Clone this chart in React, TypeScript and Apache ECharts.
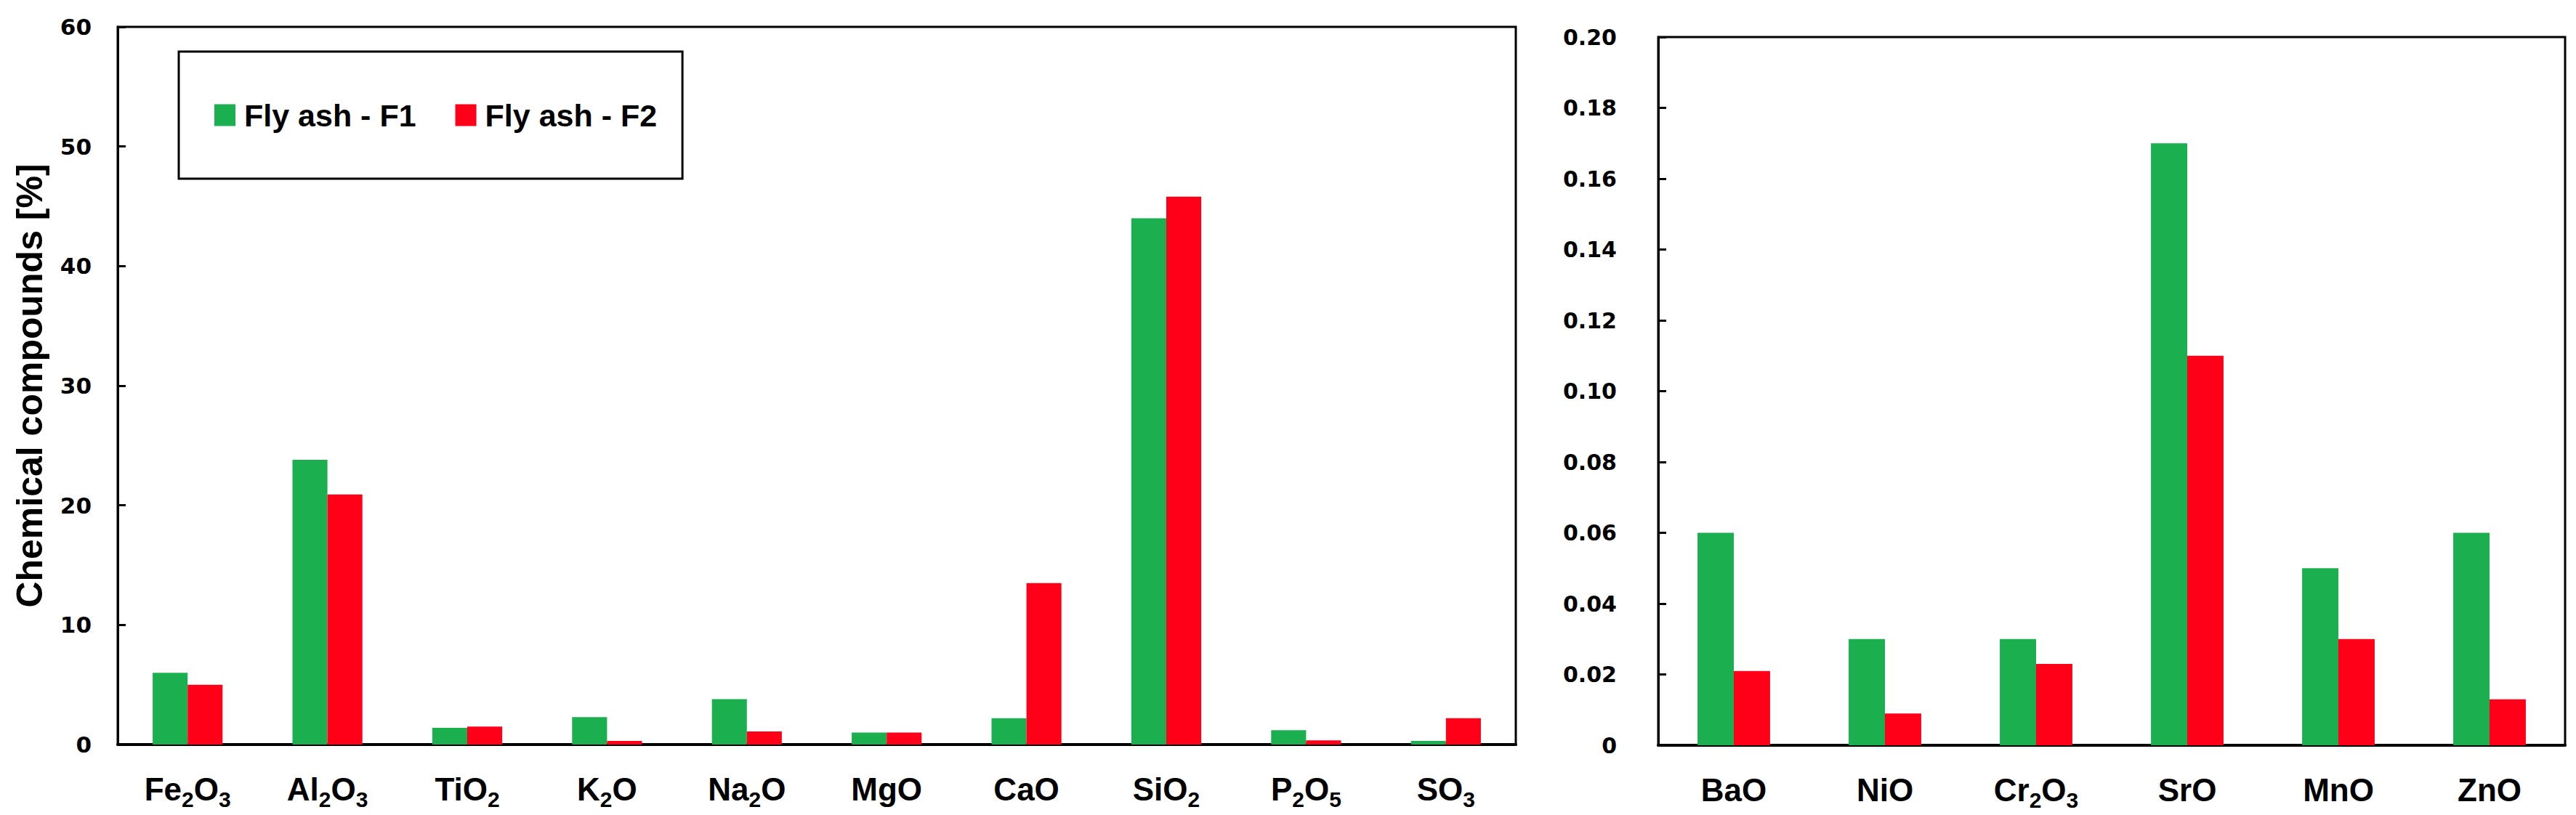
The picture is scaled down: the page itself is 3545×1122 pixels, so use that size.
import React, { useEffect, useRef } from "react";
import * as echarts from "echarts";

const majorCompounds = ["Fe2O3", "Al2O3", "TiO2", "K2O", "Na2O", "MgO", "CaO", "SiO2", "P2O5", "SO3"];
const majorF1 = [6.0, 23.8, 1.4, 2.3, 3.8, 1.0, 2.2, 44.0, 1.2, 0.3];
const majorF2 = [5.0, 20.9, 1.5, 0.3, 1.1, 1.0, 13.5, 45.8, 0.35, 2.2];

const traceCompounds = ["BaO", "NiO", "Cr2O3", "SrO", "MnO", "ZnO"];
const traceF1 = [0.06, 0.03, 0.03, 0.17, 0.05, 0.06];
const traceF2 = [0.021, 0.009, 0.023, 0.11, 0.03, 0.013];

const seriesNames = ["Fly ash - F1", "Fly ash - F2"];
const seriesColors = ["#1BAF50", "#FF0018"];

const majorAxis = { min: 0, max: 60, interval: 10 };
const traceAxis = { min: 0, max: 0.2, interval: 0.02 };
const yTitle = "Chemical compounds [%]";

const SANS = "Liberation Sans, Arial, sans-serif";
const TICKFONT = "DejaVu Sans, Verdana, sans-serif";

function formula(s: string): string {
  return s
    .split(/(\d+)/)
    .filter((p) => p.length > 0)
    .map((p) => (/^\d+$/.test(p) ? `{s|${p}}` : `{m|${p}}`))
    .join("");
}

const richLabel = {
  m: { fontSize: 44, fontWeight: "bold", fontFamily: SANS, color: "#000", verticalAlign: "bottom", lineHeight: 56, padding: [0, 0, 7, 0] },
  s: { fontSize: 30, fontWeight: "bold", fontFamily: SANS, color: "#000", verticalAlign: "bottom", lineHeight: 56 },
};

export default function App() {
  const ref = useRef<HTMLDivElement>(null);

  useEffect(() => {
    if (!ref.current) return;
    const chart = echarts.init(ref.current, undefined, { renderer: "svg" });

    const xAxisCommon = {
      type: "category",
      axisLine: { show: true, lineStyle: { color: "#000", width: 4 } },
      axisTick: { show: false },
      axisLabel: { margin: 34, formatter: (v: string) => formula(v), rich: richLabel },
      splitLine: { show: false },
    };
    const yAxisCommon = {
      type: "value",
      axisLine: { show: true, lineStyle: { color: "#000", width: 3 } },
      axisTick: { show: true, inside: true, length: 11, lineStyle: { color: "#000", width: 3 } },
      splitLine: { show: false },
    };

    const option: any = {
      animation: false,
      backgroundColor: "#fff",
      legend: {
        data: seriesNames,
        left: 246,
        top: 71,
        orient: "horizontal",
        icon: "rect",
        itemWidth: 29,
        itemHeight: 30,
        itemGap: 54,
        padding: [66, 35, 66, 49],
        borderColor: "#000",
        borderWidth: 3,
        textStyle: { fontSize: 43, fontWeight: "bold", fontFamily: SANS, color: "#000", padding: [0, 0, 0, 7] },
      },
      grid: [
        { left: 162, top: 37, width: 1924, height: 988, show: true, borderColor: "#000", borderWidth: 3, backgroundColor: "transparent" },
        { left: 2282, top: 51, width: 1248, height: 975, show: true, borderColor: "#000", borderWidth: 3, backgroundColor: "transparent" },
      ],
      xAxis: [
        { ...xAxisCommon, gridIndex: 0, data: majorCompounds },
        { ...xAxisCommon, gridIndex: 1, data: traceCompounds },
      ],
      yAxis: [
        {
          ...yAxisCommon,
          gridIndex: 0,
          min: majorAxis.min,
          max: majorAxis.max,
          interval: majorAxis.interval,
          name: yTitle,
          nameLocation: "middle",
          nameRotate: 90,
          nameGap: 96,
          nameTextStyle: { fontSize: 50, fontWeight: "bold", fontFamily: SANS, color: "#000" },
          axisLabel: { margin: 36, fontSize: 31, fontWeight: "bold", fontFamily: TICKFONT, color: "#000" },
        },
        {
          ...yAxisCommon,
          gridIndex: 1,
          min: traceAxis.min,
          max: traceAxis.max,
          interval: traceAxis.interval,
          axisLabel: {
            margin: 57,
            fontSize: 30,
            fontWeight: "bold",
            fontFamily: TICKFONT,
            color: "#000",
            formatter: (v: number) => (v === 0 ? "0" : v.toFixed(2)),
          },
        },
      ],
      series: [
        { name: seriesNames[0], type: "bar", xAxisIndex: 0, yAxisIndex: 0, data: majorF1, barWidth: "25%", barGap: "0%", itemStyle: { color: seriesColors[0] } },
        { name: seriesNames[1], type: "bar", xAxisIndex: 0, yAxisIndex: 0, data: majorF2, barWidth: "25%", barGap: "0%", itemStyle: { color: seriesColors[1] } },
        { name: seriesNames[0], type: "bar", xAxisIndex: 1, yAxisIndex: 1, data: traceF1, barWidth: "24%", barGap: "0%", itemStyle: { color: seriesColors[0] } },
        { name: seriesNames[1], type: "bar", xAxisIndex: 1, yAxisIndex: 1, data: traceF2, barWidth: "24%", barGap: "0%", itemStyle: { color: seriesColors[1] } },
      ],
    };

    chart.setOption(option);
    return () => chart.dispose();
  }, []);

  return (
    <div
      ref={ref}
      style={{ position: "absolute", left: 0, top: 0, width: 3545, height: 1122, background: "#fff" }}
    />
  );
}
